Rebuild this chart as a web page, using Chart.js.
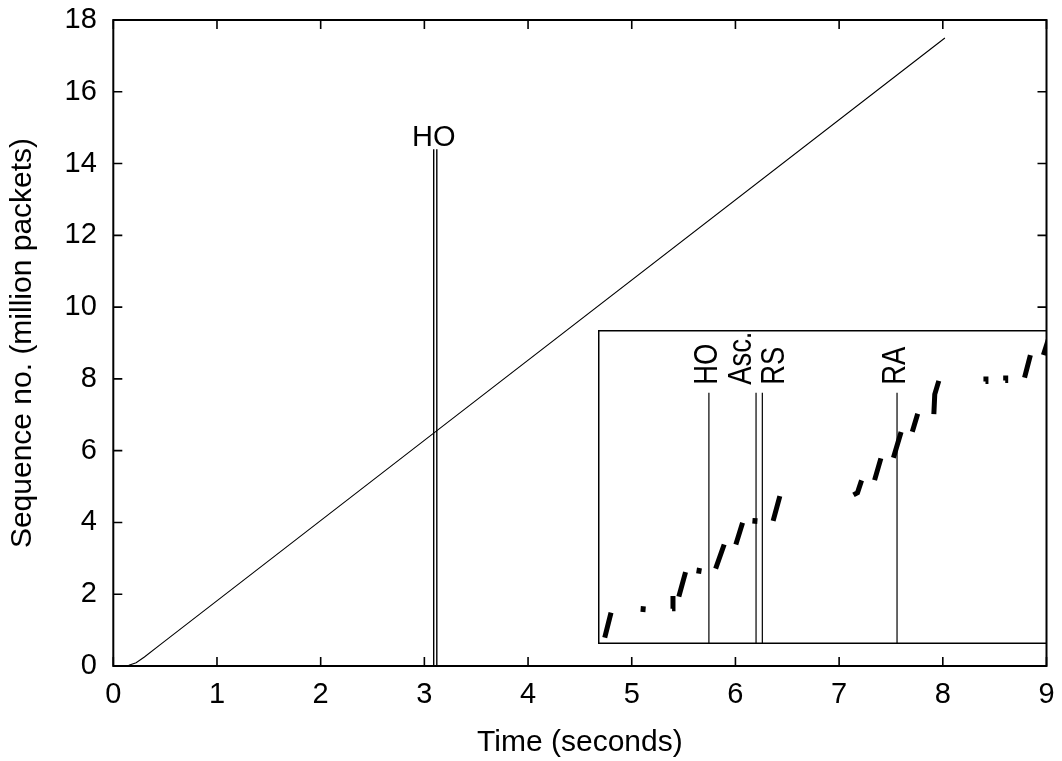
<!DOCTYPE html>
<html lang="en">
<head>
<meta charset="UTF-8">
<title>Sequence number over time</title>
<script src="https://cdn.jsdelivr.net/npm/chart.js"></script>
<style>
  body { margin: 0; background: #fff; }
  .wrap { position: relative; width: 1062px; height: 761px; }
  #mainChart { position: absolute; left: 0; top: 0; }
  #zoomChart { position: absolute; left: 598px; top: 330px; background: #fff; }
</style>
</head>
<body>
<div class="wrap">
  <canvas id="mainChart" width="1062" height="761"></canvas>
  <canvas id="zoomChart" width="449" height="314"></canvas>
</div>
<script>
// main trace: time (s) vs sequence number (million packets)
const seqTime = [0.09, 0.15, 0.22, 0.3, 0.45, 3.09, 8.02];
const seqMillions = [0, 0.02, 0.09, 0.25, 0.59, 6.49, 17.5];

// handover markers in the main plot
const hoLabel = 'HO';
const hoTimes = [3.09, 3.12];
const hoTop = 14.4;

// zoomed view: packet bursts (relative units, 0-100 on both axes)
const burstTime = [
  [1.5, 2.9], [10.0, 10.1], [16.5, 16.7], [18.0, 19.5], [22.4, 22.6],
  [26.2, 28.1], [30.7, 32.2], [34.9, 35.0], [39.0, 40.5],
  [56.9, 57.8, 58.7], [61.6, 63.0], [65.8, 67.5], [70.0, 71.2],
  [74.8, 75.0, 75.9], [86.3, 86.4], [90.7, 90.8], [95.0, 96.3], [99.2, 100.3]
];
const burstSeq = [
  [2.0, 10.0], [10.2, 12.0], [11.2, 15.3], [15.1, 22.9], [22.4, 24.2],
  [24.0, 31.7], [31.7, 38.6], [38.3, 40.1], [39.2, 47.1],
  [47.5, 48.2, 52.1], [52.2, 59.1], [59.3, 67.5], [67.6, 73.3],
  [73.2, 79.5, 83.8], [83.6, 85.2], [83.9, 85.5], [84.8, 92.0], [92.0, 97.0]
];

// events marked in the zoomed view
const eventNames = ['HO', 'Asc.', 'RS', 'RA'];
const eventTimes = [24.7, 35.2, 36.6, 66.6];
const eventTop = 80;

const FONT_FAMILY = '"Liberation Sans", Arial, Helvetica, sans-serif';
const tickFont = { family: FONT_FAMILY, size: 29 };
const titleFont = { family: FONT_FAMILY, size: 30 };

const seqPoints = seqTime.map((t, i) => ({ x: t, y: seqMillions[i] }));
const hoSets = hoTimes.map(t => ({
  data: [{ x: t, y: 0 }, { x: t, y: hoTop }],
  borderColor: '#000',
  borderWidth: 1.4,
  pointRadius: 0
}));

// keep the plot area fixed: no extra room for overhanging tick labels
function fixBox(size, dim) {
  return scale => {
    scale[dim] = size;
    scale.paddingTop = 0;
    scale.paddingBottom = 0;
    scale.paddingLeft = 0;
    scale.paddingRight = 0;
  };
}

// gnuplot-style frame with inward ticks on all four sides
const frameTicks = {
  id: 'frameTicks',
  afterDatasetsDraw(chart) {
    const { ctx, chartArea: a, scales: { x, y } } = chart;
    ctx.save();
    ctx.strokeStyle = '#000';
    ctx.lineWidth = 1.6;
    ctx.beginPath();
    x.ticks.forEach(t => {
      const px = x.getPixelForValue(t.value);
      ctx.moveTo(px, a.bottom); ctx.lineTo(px, a.bottom - 9);
      ctx.moveTo(px, a.top); ctx.lineTo(px, a.top + 9);
    });
    y.ticks.forEach(t => {
      const py = y.getPixelForValue(t.value);
      ctx.moveTo(a.left, py); ctx.lineTo(a.left + 9, py);
      ctx.moveTo(a.right, py); ctx.lineTo(a.right - 9, py);
    });
    ctx.stroke();
    ctx.lineWidth = 2;
    ctx.strokeRect(a.left, a.top, a.right - a.left, a.bottom - a.top);

    ctx.font = '29px ' + FONT_FAMILY;
    ctx.fillStyle = '#000';
    ctx.textAlign = 'center';
    ctx.textBaseline = 'alphabetic';
    ctx.fillText(hoLabel, x.getPixelForValue(hoTimes[0]), y.getPixelForValue(hoTop) - 3.5);
    ctx.restore();
  }
};

new Chart(document.getElementById('mainChart'), {
  type: 'line',
  data: {
    datasets: [{
      data: seqPoints,
      borderColor: '#000',
      borderWidth: 1.1,
      pointRadius: 0,
      tension: 0
    }, ...hoSets]
  },
  options: {
    responsive: false,
    animation: false,
    layout: { padding: { top: 20, right: 15.5, left: 0, bottom: 0 } },
    plugins: { legend: { display: false }, tooltip: { enabled: false } },
    scales: {
      x: {
        type: 'linear', min: 0, max: 9,
        grid: { display: false, drawTicks: false },
        border: { display: false },
        ticks: { stepSize: 1, padding: 11.6, color: '#000', font: tickFont },
        title: { display: true, text: 'Time (seconds)', color: '#000', font: titleFont, padding: { top: 0, bottom: 0.3 } },
        afterFit: fixBox(95, 'height')
      },
      y: {
        type: 'linear', min: 0, max: 18,
        grid: { display: false, drawTicks: false },
        border: { display: false },
        ticks: { stepSize: 2, padding: 16.5, color: '#000', font: tickFont },
        title: { display: true, text: 'Sequence no. (million packets)', color: '#000', font: titleFont, padding: { top: 5, bottom: 0 } },
        afterFit: fixBox(113.3, 'width')
      }
    }
  },
  plugins: [frameTicks]
});

// bursts joined into one dataset, broken by null points
const burstPoints = [];
burstTime.forEach((ts, i) => {
  ts.forEach((t, j) => burstPoints.push({ x: t, y: burstSeq[i][j] }));
  burstPoints.push({ x: ts[ts.length - 1], y: null });
});
const eventSets = eventTimes.map(t => ({
  data: [{ x: t, y: 0 }, { x: t, y: eventTop }],
  borderColor: '#000',
  borderWidth: 1.2,
  pointRadius: 0
}));

// sideways shifts so the event names do not overlap
const eventLabelShift = [-1, -14, 12.5, -1];

const zoomDecor = {
  id: 'zoomDecor',
  afterDatasetsDraw(chart) {
    const { ctx, width, height, scales: { x, y } } = chart;
    ctx.save();
    ctx.fillStyle = '#000';
    ctx.font = '33px ' + FONT_FAMILY;
    ctx.textAlign = 'left';
    ctx.textBaseline = 'middle';
    eventNames.forEach((name, i) => {
      const px = x.getPixelForValue(eventTimes[i]) + eventLabelShift[i];
      const py = y.getPixelForValue(eventTop) - 8;
      ctx.save();
      ctx.translate(px, py);
      ctx.rotate(-Math.PI / 2);
      ctx.scale(0.83, 1);
      ctx.fillText(name, 0, 0);
      ctx.restore();
    });
    ctx.strokeStyle = '#000';
    ctx.lineWidth = 1.5;
    ctx.strokeRect(0.75, 0.75, width - 1.5, height - 1.5);
    ctx.restore();
  }
};

new Chart(document.getElementById('zoomChart'), {
  type: 'line',
  data: {
    datasets: [{
      data: burstPoints,
      borderColor: '#000',
      borderWidth: 5,
      borderCapStyle: 'butt',
      pointRadius: 0,
      spanGaps: false,
      tension: 0
    }, ...eventSets]
  },
  options: {
    responsive: false,
    animation: false,
    layout: { padding: 0 },
    plugins: { legend: { display: false }, tooltip: { enabled: false } },
    scales: {
      x: { type: 'linear', display: false, min: 0, max: 100 },
      y: { type: 'linear', display: false, min: 0, max: 100 }
    }
  },
  plugins: [zoomDecor]
});
</script>
</body>
</html>
